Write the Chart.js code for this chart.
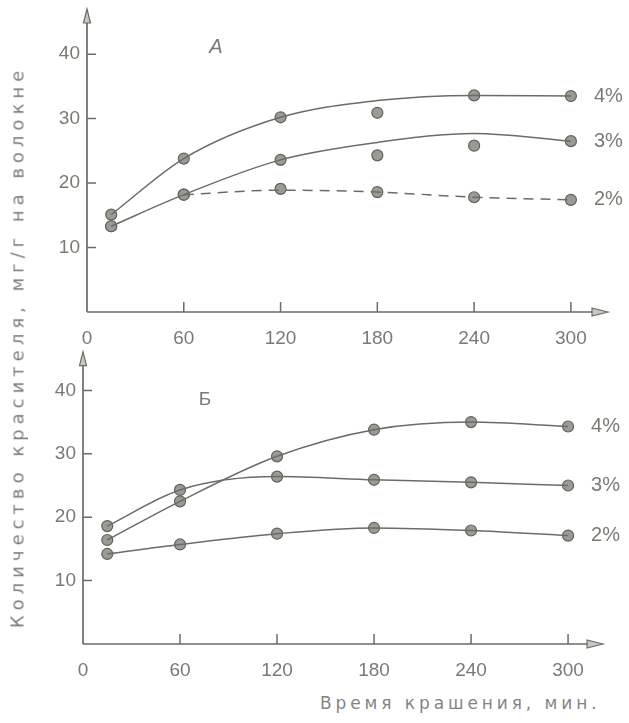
<!DOCTYPE html>
<html>
<head>
<meta charset="utf-8">
<script src="https://cdn.jsdelivr.net/npm/chart.js@4.4.0/dist/chart.umd.min.js"></script>
<style>
    body { margin: 0; background: #fff; }
    #wrap { position: relative; width: 629px; height: 723px; overflow: hidden; background: #fff; }
    #chartA { position: absolute; left: 0; top: 0; }
    #chartB { position: absolute; left: 0; top: 345px; }
    #yTitle {
        position: absolute; left: 17px; top: 347px;
        transform: translate(-50%, -50%) rotate(-90deg);
        white-space: nowrap; font: 18px 'DejaVu Sans', sans-serif;
        letter-spacing: 5px; color: #7e7e78;
    }
    #xTitle {
        position: absolute; left: 320px; top: 693px;
        white-space: nowrap; font: 17px 'DejaVu Sans', sans-serif;
        letter-spacing: 3.9px; color: #85857f;
    }
</style>
</head>
<body>
<div id="wrap">
    <canvas id="chartA" width="629" height="345"></canvas>
    <canvas id="chartB" width="629" height="345"></canvas>
    <div id="yTitle">Количество красителя, мг/г на волокне</div>
    <div id="xTitle">Время крашения, мин.</div>
</div>
<script>
/* time of dyeing, min */
const times = [15, 60, 120, 180, 240, 300];
const xTicks = [0, 60, 120, 180, 240, 300];
const yTicks = [10, 20, 30, 40];
const seriesNames = ['4%', '3%', '2%'];

/* panel A: measured points and the drawn (fitted) curves */
const a4Points = [15.1, 23.8, 30.2, 30.9, 33.6, 33.5];
const a4Curve  = [15.1, 23.8, 30.2, 32.8, 33.6, 33.5];
const a3Points = [13.3, 18.2, 23.6, 24.3, 25.8, 26.5];
const a3Curve  = [13.3, 18.2, 23.6, 26.3, 27.7, 26.5];
const a2Points = [13.3, 18.2, 19.1, 18.6, 17.8, 17.4];
const a2Curve  = [null, 18.2, 18.9, 18.6, 17.8, 17.4];

/* panel Б */
const b4Points = [16.4, 22.5, 29.6, 33.8, 35.0, 34.3];
const b3Points = [18.6, 24.3, 26.4, 25.9, 25.5, 25.0];
const b2Points = [14.2, 15.7, 17.4, 18.3, 17.9, 17.1];

window.onload = function () {
    const lineColor = 'rgb(108, 108, 102)';
    const textColor = 'rgb(122, 122, 116)';
    const numFont = "'Liberation Sans', Arial, sans-serif";

    function pts(values) {
        const out = [];
        values.forEach(function (v, i) {
            if (v !== null) out.push({ x: times[i], y: v });
        });
        return out;
    }

    function curve(values, dash) {
        return {
            type: 'line',
            data: pts(values),
            borderColor: lineColor,
            borderWidth: 1.5,
            borderDash: dash || [],
            pointRadius: 0,
            cubicInterpolationMode: 'monotone',
            fill: false,
        };
    }

    function dots(values) {
        return {
            type: 'line',
            data: pts(values),
            showLine: false,
            pointRadius: 5.5,
            pointBackgroundColor: 'rgb(155, 155, 149)',
            pointBorderColor: 'rgb(98, 98, 93)',
            pointBorderWidth: 1.2,
        };
    }

    const decor = {
        id: 'decor',
        afterDraw(chart, args, opts) {
            const { ctx, chartArea: { top, bottom, left, right }, scales: { x, y } } = chart;
            ctx.save();
            ctx.strokeStyle = lineColor;
            ctx.fillStyle = 'rgb(200, 200, 195)';
            ctx.lineWidth = 1.7;

            // axes
            ctx.beginPath();
            ctx.moveTo(left, bottom);
            ctx.lineTo(left, top + 4);
            ctx.moveTo(left, bottom);
            ctx.lineTo(right - 6, bottom);
            ctx.stroke();

            // arrow heads
            ctx.lineWidth = 1.2;
            ctx.beginPath();
            ctx.moveTo(left, top);
            ctx.lineTo(left - 3.5, top + 14);
            ctx.lineTo(left + 3.5, top + 14);
            ctx.closePath();
            ctx.fill();
            ctx.stroke();
            ctx.beginPath();
            ctx.moveTo(right, bottom);
            ctx.lineTo(right - 16, bottom - 4);
            ctx.lineTo(right - 16, bottom + 4);
            ctx.closePath();
            ctx.fill();
            ctx.stroke();

            // inward tick marks
            ctx.lineWidth = 1.5;
            ctx.beginPath();
            yTicks.forEach(function (v) {
                const py = y.getPixelForValue(v);
                ctx.moveTo(left, py);
                ctx.lineTo(left + 9, py);
            });
            xTicks.forEach(function (v) {
                if (v === 0) return;
                const px = x.getPixelForValue(v);
                ctx.moveTo(px, bottom);
                ctx.lineTo(px, bottom - 10);
            });
            ctx.stroke();

            // series labels at the right end
            ctx.fillStyle = textColor;
            ctx.font = '20px ' + numFont;
            ctx.textAlign = 'left';
            ctx.textBaseline = 'middle';
            opts.ends.forEach(function (v, i) {
                ctx.fillText(seriesNames[i], x.getPixelForValue(times[times.length - 1]) + 23, y.getPixelForValue(v));
            });

            // panel letter
            ctx.font = opts.letterFont + ' ' + numFont;
            ctx.textAlign = 'center';
            ctx.fillText(opts.letter, x.getPixelForValue(opts.letterAt[0]), y.getPixelForValue(opts.letterAt[1]));
            ctx.restore();
        }
    };

    function makeOptions(o) {
        return {
            responsive: false,
            animation: false,
            layout: { padding: { top: o.padTop, right: o.padRight, left: 0, bottom: 0 } },
            plugins: {
                legend: { display: false },
                tooltip: { enabled: false },
                decor: o.decor,
            },
            scales: {
                x: {
                    type: 'linear',
                    min: 0,
                    max: o.xMax,
                    afterBuildTicks: function (s) { s.ticks = xTicks.map(function (v) { return { value: v }; }); },
                    afterFit: function (s) { s.height = o.xHeight; s.paddingLeft = 0; s.paddingRight = 0; },
                    grid: { display: false, drawTicks: false },
                    border: { display: false },
                    ticks: { padding: 15, color: textColor, font: { family: numFont, size: 19 } },
                },
                y: {
                    type: 'linear',
                    min: 0,
                    max: o.yMax,
                    afterBuildTicks: function (s) { s.ticks = yTicks.map(function (v) { return { value: v }; }); },
                    afterFit: function (s) { s.width = o.yWidth; s.paddingTop = 0; s.paddingBottom = 0; },
                    grid: { display: false, drawTicks: false },
                    border: { display: false },
                    ticks: { padding: 7, color: textColor, font: { family: numFont, size: 19 } },
                },
            },
        };
    }

    new Chart(document.getElementById('chartA'), {
        type: 'line',
        data: {
            datasets: [
                curve(a4Curve), curve(a3Curve), curve(a2Curve, [10, 7]),
                dots(a4Points), dots(a3Points), dots(a2Points),
            ],
        },
        options: makeOptions({
            padTop: 9, padRight: 21, xMax: 323, yMax: 47, xHeight: 33, yWidth: 87,
            decor: {
                ends: [a4Points[5], a3Points[5], a2Points[5]],
                letter: 'А', letterFont: 'italic 20px', letterAt: [80, 41.1],
            },
        }),
        plugins: [decor],
    });

    new Chart(document.getElementById('chartB'), {
        type: 'line',
        data: {
            datasets: [
                curve(b4Points), curve(b3Points), curve(b2Points),
                dots(b4Points), dots(b3Points), dots(b2Points),
            ],
        },
        options: makeOptions({
            padTop: 3, padRight: 26, xMax: 321.6, yMax: 46.1, xHeight: 46, yWidth: 83,
            decor: {
                ends: [b4Points[5], b3Points[5], b2Points[5]],
                letter: 'Б', letterFont: '19px', letterAt: [75.4, 38.5],
            },
        }),
        plugins: [decor],
    });
};
</script>
</body>
</html>
